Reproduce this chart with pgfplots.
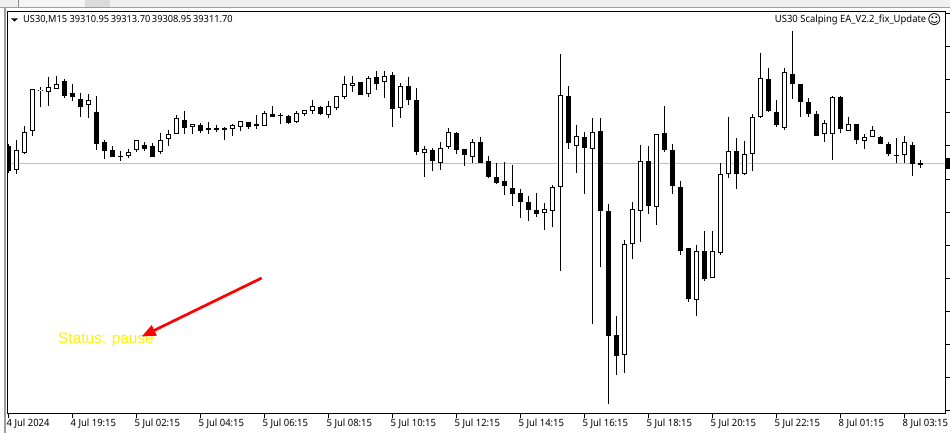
\documentclass[border=0pt]{standalone}
\usepackage{fontspec}
\usepackage{pgfplots}
\pgfplotsset{compat=1.18}
\usepackage{pgfplotstable}
\usetikzlibrary{arrows.meta}
\setmainfont[FakeStretch=0.945]{Noto Sans}
\newfontfamily\arialfont{Liberation Sans}
\newfontfamily\symfont{DejaVu Sans}

% y values are read off the chart as pixel rows; k is the bar number
% columns: bar, body top, body bottom, high, low
\pgfplotstableread{
k top bot hi lo
1 150 170 140 174
2 132 153 126 154
3 89 131 89 136
4 90 91 87 107
5 87 92 77 106
6 84 89 76 89
10 100 105 94 118
15 152 156 149 158
16 140 150 140 152
19 140 152 133 154
20 134 139 130 146
21 118 134 115 134
23 124 127 124 134
28 125 129 124 136
29 121 127 121 131
32 113 126 111 126
36 113 122 111 123
37 110 114 110 116
38 106 111 100 114
40 106 115 101 118
41 96 108 96 110
42 84 97 76 99
43 83 86 76 92
45 78 94 76 97
47 76 82 71 98
49 86 108 83 118
52 149 153 146 177
54 148 163 142 170
55 132 147 128 149
58 142 157 139 163
67 209 213 203 230
68 187 211 185 227
69 95 187 54 271
71 136 146 125 173
73 132 149 118 324
77 244 355 240 373
78 209 244 202 259
79 161 211 145 242
81 134 207 134 225
86 251 300 245 316
88 251 278 231 278
89 174 253 163 255
90 151 174 117 178
92 154 174 141 175
93 117 154 114 171
94 78 117 53 118
97 72 128 68 130
102 123 134 120 142
103 97 134 96 160
105 124 131 117 131
107 137 141 134 149
108 130 137 126 137
112 142 155 136 163
114 163 165 160 168
}\upbars
\pgfplotstableread{
k top bot hi lo
0 146 171 144 173
7 81 96 79 98
8 93 97 84 101
9 99 107 93 117
11 112 144 96 150
12 142 151 140 159
13 150 157 146 157
14 156 157 151 161
17 145 149 142 151
18 146 157 143 157
22 120 128 111 134
24 125 131 123 133
25 128 130 122 134
26 128 130 125 132
27 128 130 127 140
30 122 127 122 129
31 124 126 115 129
33 114 117 106 117
34 115 116 113 124
35 116 123 115 124
39 107 114 106 115
44 82 95 82 95
46 77 84 71 90
48 75 109 72 127
50 86 100 77 105
51 100 152 88 155
53 150 161 148 171
56 133 150 132 154
57 149 155 149 166
59 142 163 137 163
60 161 177 156 178
61 177 183 163 184
62 181 186 162 195
63 188 194 165 206
64 193 202 189 218
65 202 210 196 221
66 210 214 193 217
70 96 143 86 149
72 137 148 132 194
74 131 211 118 267
75 211 336 204 404
76 335 356 316 375
80 161 206 146 214
82 133 150 106 152
83 150 186 144 194
84 187 251 181 255
85 248 299 248 302
87 251 279 231 281
91 151 174 138 189
95 79 111 68 112
96 112 125 100 127
98 74 84 31 99
99 84 102 84 117
100 102 114 98 117
101 114 136 111 136
104 97 129 96 133
106 124 140 124 144
109 137 144 136 144
110 144 154 142 156
111 155 156 138 163
113 145 164 142 176
}\downbars

\begin{document}
\begin{tikzpicture}[x=1pt,y=1pt]
\path[use as bounding box] (0,0) rectangle (950,433);
\clip (0,0) rectangle (950,433);
\fill[white] (0,0) rectangle (950,433);
% terminal window frame
\fill[black!6] (0,426) rectangle (950,433);
\fill[white!96!black] (20,426) rectangle (85,433);
\fill[black!14] (85,426) rectangle (110,433);
\fill[black!45] (18,426) rectangle (19,433);
\fill[black!38] (0,424.8) rectangle (950,426);
\fill[black!38] (3.5,0) rectangle (5.5,425);

\begin{axis}[
  at={(7.5pt,19.5pt)},anchor=south west,scale only axis,
  width=938pt,height=402pt,
  xmin=-0.125,xmax=117.125,ymin=11.5,ymax=413.5,y dir=reverse,
  clip=false,axis on top,
  axis line style={black,line width=1pt},
  tick style={black,line width=1pt},major tick length=4pt,tick align=outside,
  xtick pos=bottom,ytick pos=right,
  xtick={0,8,...,112},
  xticklabels={4 Jul 2024,4 Jul 19:15,5 Jul 02:15,5 Jul 04:15,5 Jul 06:15,5 Jul 08:15,5 Jul 10:15,5 Jul 12:15,5 Jul 14:15,5 Jul 16:15,5 Jul 18:15,5 Jul 20:15,5 Jul 22:15,8 Jul 01:15,8 Jul 03:15},
  xticklabel style={anchor=north west,inner sep=0pt,xshift=-2pt,yshift=-1pt,font=\fontsize{10}{12}\selectfont},
  ytick={14,47,80,113,146,179,212,245,278,311,344,377,410},
  yticklabels={},
]
% bid line
\addplot[forget plot,color=black!25,line width=1pt] coordinates {(-0.125,163.5) (117.125,163.5)};
% wicks
\addplot[forget plot,no markers,black,line width=1pt,quiver={u=0,v={\thisrow{lo}-\thisrow{hi}}}] table[x=k,y=hi] {\upbars};
\addplot[forget plot,no markers,black,line width=1pt,quiver={u=0,v={\thisrow{lo}-\thisrow{hi}}}] table[x=k,y=hi] {\downbars};
% bodies
\addplot[forget plot,no markers,black,line width=5pt,quiver={u=0,v={\thisrow{bot}-\thisrow{top}}}] table[x=k,y=top] {\downbars};
\addplot[forget plot,no markers,black,line width=5pt,quiver={u=0,v={\thisrow{bot}-\thisrow{top}}}] table[x=k,y=top] {\upbars};
\addplot[forget plot,no markers,white,line width=3pt,quiver={u=0,v={\thisrow{bot}-\thisrow{top}-2}}] table[x=k,y expr=\thisrow{top}+1] {\upbars};
% price tag in the right margin
\addplot[forget plot,black,line width=4pt] coordinates {(117.44,158) (117.44,169)};
\end{axis}

% first bar is cut by the left axis line
\fill[white] (5.5,255) rectangle (7,295);

% chart text
\fill[black] (11,414.7) -- (18,414.7) -- (14.5,411.3) -- cycle;
\node[anchor=base west,inner sep=0pt,font=\fontsize{9.8}{12}\selectfont] at (23,410) {US30,M15\hspace{2.5pt}39310.95\hspace{-0.8pt} 39313.70\hspace{-0.8pt} 39308.95\hspace{-0.8pt} 39311.70};
\node[anchor=base east,inner sep=0pt,font=\fontsize{10}{12}\selectfont] at (926.5,410) {US30 Scalping EA\_V2.2\_fix\_Update};
\node[inner sep=0pt,font=\symfont\fontsize{13.5}{14}\selectfont] at (934.5,413) {☺};
% status label and hand-drawn arrow
\node[anchor=base west,inner sep=0pt,text=yellow,font=\arialfont\fontsize{15.4}{16}\selectfont] at (58,89) {Status: pause};
\draw[red,line width=2.7pt,-{Triangle[length=14pt,width=11pt]}] (261.7,155) -- (141.7,96.5);
\end{tikzpicture}
\end{document}
